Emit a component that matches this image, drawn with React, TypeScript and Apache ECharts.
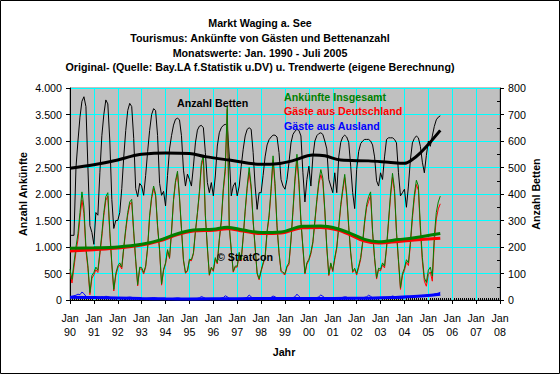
import { useEffect, useRef } from 'react';
import * as echarts from 'echarts';

const FONT = 'Arial, "Liberation Sans", sans-serif';

const titleLines = [
  'Markt Waging a. See',
  'Tourismus: Ankünfte von Gästen und Bettenanzahl',
  'Monatswerte: Jan. 1990 - Juli 2005',
  'Original- (Quelle: Bay.LA f.Statistik u.DV) u. Trendwerte (eigene Berechnung)',
];

const yearLabels = ['90', '91', '92', '93', '94', '95', '96', '97', '98', '99', '00', '01', '02', '03', '04', '05', '06', '07', '08'];

// Anzahl Betten (right axis), monthly Jan 1990 - Jul 2005
const beds = [
  244, 244, 244, 500, 600, 690, 750, 767, 730, 500, 280, 255,
  210, 330, 320, 480, 620, 700, 755, 740, 600, 380, 270, 300,
  300, 330, 420, 540, 640, 715, 742, 730, 610, 420, 390, 440,
  430, 395, 470, 560, 640, 700, 722, 715, 620, 440, 395, 410,
  355, 470, 570, 620, 660, 682, 686, 680, 620, 490, 430, 475,
  455, 430, 505, 593, 641, 656, 659, 650, 556, 443, 405, 443,
  393, 468, 581, 631, 650, 659, 663, 656, 543, 393, 430, 443,
  393, 430, 505, 569, 619, 644, 650, 644, 556, 430, 342, 405,
  405, 470, 540, 585, 605, 615, 622, 622, 615, 556, 455, 430,
  418, 455, 518, 593, 625, 637, 644, 640, 619, 480, 370, 455,
  505, 430, 540, 600, 620, 628, 631, 625, 600, 570, 455, 430,
  405, 480, 405, 540, 595, 615, 622, 615, 595, 505, 405, 345,
  493, 560, 590, 600, 606, 606, 606, 600, 585, 540, 450, 430,
  480, 455, 540, 606, 612, 612, 612, 606, 593, 480, 393, 405,
  418, 350, 430, 530, 593, 610, 619, 612, 580, 520, 480, 545,
  600, 580, 619, 655, 680, 690, 695,
];

// Ankünfte Insgesamt
const arrivals = [
  580, 390, 700, 1000, 1250, 1650, 2040, 1750, 1000, 650, 140, 460,
  520, 620, 560, 900, 1250, 1650, 1950, 2025, 1300, 700, 200, 500,
  640, 700, 620, 1000, 1350, 1650, 1850, 1900, 1300, 760, 290, 620,
  610, 520, 640, 1000, 1600, 1950, 2150, 2000, 1400, 950, 300, 580,
  700, 950, 800, 1300, 1900, 2250, 2430, 1950, 1350, 760, 520, 560,
  770, 760, 890, 1300, 1650, 2050, 2590, 2720, 1600, 1000, 480, 620,
  560, 800, 700, 1150, 1500, 2100, 2500, 3660, 1400, 950, 540, 640,
  640, 900, 760, 1200, 1700, 2150, 2500, 2150, 1500, 1000, 510, 400,
  560, 700, 820, 1300, 1600, 2100, 2720, 2200, 1400, 900, 560, 520,
  500, 640, 700, 1150, 1700, 2300, 2750, 2250, 1500, 1000, 510, 700,
  770, 900, 1100, 1500, 1900, 2250, 2460, 2300, 1700, 1000, 480, 700,
  560, 800, 1000, 1400, 1800, 2100, 2370, 2000, 1400, 900, 540, 600,
  500, 640, 800, 1100, 1500, 1800, 1950, 2040, 1300, 800, 420, 600,
  580, 700, 640, 1000, 1500, 2000, 2390, 2100, 1300, 760, 230, 500,
  600, 760, 700, 1100, 1600, 2000, 2260, 2150, 1400, 800, 420, 330,
  560, 620, 450, 1200, 1650, 1850, 1960,
];

// Gäste aus Deutschland
const germany = [
  520, 320, 620, 910, 1140, 1550, 1890, 1630, 930, 600, 100, 410,
  475, 570, 520, 855, 1190, 1595, 1880, 1960, 1250, 660, 170, 460,
  605, 660, 585, 965, 1305, 1600, 1795, 1850, 1260, 730, 265, 590,
  580, 490, 615, 970, 1565, 1910, 2105, 1960, 1370, 925, 280, 555,
  680, 925, 780, 1275, 1870, 2215, 2390, 1915, 1325, 740, 505, 540,
  750, 740, 870, 1275, 1620, 2010, 2525, 2670, 1570, 980, 465, 600,
  540, 775, 680, 1125, 1465, 2055, 2420, 3600, 1370, 930, 525, 620,
  620, 880, 735, 1170, 1665, 2100, 2405, 2090, 1470, 980, 495, 380,
  540, 675, 795, 1270, 1560, 2050, 2645, 2140, 1365, 875, 540, 500,
  475, 615, 670, 1115, 1655, 2240, 2640, 2180, 1465, 975, 490, 675,
  745, 870, 1070, 1465, 1855, 2190, 2365, 2230, 1660, 975, 460, 675,
  535, 770, 970, 1365, 1760, 2050, 2310, 1945, 1365, 875, 520, 575,
  470, 610, 765, 1060, 1450, 1740, 1860, 1970, 1260, 770, 395, 570,
  550, 665, 605, 960, 1450, 1940, 2315, 2035, 1255, 725, 200, 465,
  560, 715, 650, 1045, 1540, 1930, 2180, 2070, 1325, 730, 355, 260,
  480, 530, 355, 1090, 1530, 1720, 1815,
];

// Gäste aus Ausland
const abroad = [
  60, 70, 80, 90, 110, 100, 150, 120, 70, 50, 40, 50,
  45, 50, 40, 45, 60, 55, 70, 65, 50, 40, 30, 40,
  35, 40, 35, 35, 45, 50, 55, 50, 40, 30, 25, 30,
  30, 30, 25, 30, 35, 40, 45, 40, 30, 25, 20, 25,
  20, 25, 20, 25, 30, 35, 40, 35, 25, 20, 15, 20,
  20, 20, 20, 25, 30, 40, 65, 50, 30, 20, 15, 20,
  20, 25, 20, 25, 35, 45, 80, 60, 30, 20, 15, 20,
  20, 20, 25, 30, 35, 50, 95, 60, 30, 20, 15, 20,
  20, 25, 25, 30, 40, 50, 75, 60, 35, 25, 20, 20,
  25, 25, 30, 35, 45, 60, 110, 70, 35, 25, 20, 25,
  25, 30, 30, 35, 45, 60, 95, 70, 40, 25, 20, 25,
  25, 30, 30, 35, 40, 50, 60, 55, 35, 25, 20, 25,
  30, 30, 35, 40, 50, 60, 90, 70, 40, 30, 25, 30,
  30, 35, 35, 40, 50, 60, 75, 65, 45, 35, 30, 35,
  40, 45, 50, 55, 60, 70, 80, 80, 75, 70, 65, 70,
  80, 90, 95, 110, 120, 130, 145,
];

// Trend values (month index from Jan 1990)
const trendMonths = [0, 12, 24, 36, 45, 54, 62, 72, 79, 87, 96, 106, 117, 126, 134, 140, 148, 155, 165, 173, 186];
const arrivalsTrend = [975, 985, 1000, 1050, 1130, 1250, 1320, 1335, 1375, 1320, 1275, 1285, 1390, 1395, 1350, 1270, 1145, 1100, 1140, 1175, 1255];
const germanyTrend = [925, 950, 980, 1035, 1115, 1235, 1300, 1315, 1345, 1300, 1255, 1265, 1365, 1370, 1325, 1245, 1110, 1075, 1105, 1130, 1165];

const bedsTrendMonths = [0, 12, 24, 30, 36, 48, 60, 68, 80, 96, 104, 112, 122, 128, 136, 150, 160, 168, 172, 176, 180, 186];
const bedsTrend = [497, 510, 528, 541, 550, 555, 553, 541, 528, 512, 514, 526, 547, 544, 528, 525, 520, 516, 530, 555, 587, 640];

const abroadTrendMonths = [0, 12, 24, 36, 48, 60, 84, 108, 132, 150, 162, 170, 178, 186];
const abroadTrend = [50, 48, 40, 30, 22, 20, 25, 28, 30, 35, 45, 60, 80, 110];

const fmtDe = (v: number) =>
  v >= 1000 ? `${Math.floor(v / 1000)}.${String(v % 1000).padStart(3, '0')}` : `${v}`;

const monthly = (arr: number[]) => arr.map((v, i) => [i, v]);
const paired = (ms: number[], vs: number[]) => ms.map((m, i) => [m, vs[i]]);

function thin(name: string, data: number[], color: string, yAxisIndex = 0) {
  return {
    type: 'line', name, data: monthly(data), yAxisIndex, showSymbol: false, symbol: 'none',
    lineStyle: { color, width: 1 }, itemStyle: { color }, silent: true,
  };
}
function thick(name: string, ms: number[], vs: number[], color: string, yAxisIndex = 0) {
  return {
    type: 'line', name, data: paired(ms, vs), yAxisIndex, showSymbol: false, symbol: 'none',
    smooth: 0.35, lineStyle: { color, width: 3 }, itemStyle: { color }, silent: true,
  };
}

export default function App() {
  const ref = useRef<HTMLDivElement>(null);
  useEffect(() => {
    if (!ref.current) return;
    const chart = echarts.init(ref.current, null, { renderer: 'svg' });
    const txt = (text: string, x: number, y: number, extra: any = {}) => ({
      type: 'text', x, y, silent: true, z: 100,
      style: { text, fontSize: 10.7, fontWeight: 'bold', fontFamily: FONT, fill: '#000', textAlign: 'left', textVerticalAlign: 'middle', ...extra },
    });
    chart.setOption({
      animation: false,
      backgroundColor: '#ffffff',
      textStyle: { fontFamily: FONT },
      grid: { left: 70, right: 60, top: 88, bottom: 74, show: true, backgroundColor: '#C0C0C0', borderColor: '#808080', borderWidth: 1 },
      xAxis: {
        type: 'value', min: 0, max: 216, interval: 12,
        axisLine: { lineStyle: { color: '#000', width: 1 } },
        axisTick: { show: true, length: 4, lineStyle: { color: '#000' } },
        minorTick: { show: true, splitNumber: 12, length: -2, lineStyle: { color: '#000' } },
        splitLine: { show: true, lineStyle: { color: '#00FFFF', width: 1 } },
        axisLabel: {
          margin: 11, fontSize: 10.7, lineHeight: 14, color: '#000', fontFamily: FONT, align: 'center',
          formatter: (v: number) => `Jan\n${yearLabels[Math.round(v / 12)] ?? ''}`,
        },
      },
      yAxis: [
        {
          type: 'value', min: 0, max: 4000, interval: 500, position: 'left',
          axisLine: { show: true, lineStyle: { color: '#000' } },
          axisTick: { show: true, length: 4, lineStyle: { color: '#000' } },
          splitLine: { show: true, lineStyle: { color: '#00FFFF', width: 1 } },
          axisLabel: { margin: 8, fontSize: 10.7, color: '#000', fontFamily: FONT, formatter: fmtDe },
        },
        {
          type: 'value', min: 0, max: 800, interval: 100, position: 'right',
          axisLine: { show: true, lineStyle: { color: '#000' } },
          axisTick: { show: true, length: 4, lineStyle: { color: '#000' } },
          minorTick: { show: true, splitNumber: 2, length: -3, lineStyle: { color: '#000' } },
          splitLine: { show: false },
          axisLabel: { margin: 8, fontSize: 10.7, color: '#000', fontFamily: FONT },
        },
      ],
      series: [
        thin('Anzahl Betten', beds, '#000000', 1),
        thin('Gäste aus Deutschland', germany, '#FF0000'),
        thin('Ankünfte Insgesamt', arrivals, '#008000'),
        thin('Gäste aus Ausland', abroad, '#0000FF'),
        thick('Trend Deutschland', trendMonths, germanyTrend, '#FF0000'),
        thick('Trend Insgesamt', trendMonths, arrivalsTrend, '#008000'),
        thick('Trend Ausland', abroadTrendMonths, abroadTrend, '#0000FF'),
        thick('Trend Betten', bedsTrendMonths, bedsTrend, '#000000', 1),
      ],
      graphic: [
        { type: 'rect', silent: true, shape: { x: 0.5, y: 0.5, width: 559, height: 373 }, style: { fill: 'none', stroke: '#000', lineWidth: 1 } },
        ...titleLines.map((t, i) => txt(t, 260, [22.7, 37.7, 52.5, 67.3][i], { textAlign: 'center' })),
        txt('Anzahl Betten', 177, 103),
        txt('Ankünfte Insgesamt', 284, 96.5, { fill: '#008000' }),
        txt('Gäste aus Deutschland', 284, 111, { fill: '#FF0000' }),
        txt('Gäste aus Ausland', 284, 125.7, { fill: '#0000FF' }),
        txt('© StratCon', 217, 256.7),
        txt('Jahr', 284, 352, { textAlign: 'center' }),
        { ...txt('Anzahl Ankünfte', 22.5, 194, { textAlign: 'center' }), rotation: Math.PI / 2 },
        { ...txt('Anzahl Betten', 536, 194, { textAlign: 'center' }), rotation: Math.PI / 2 },
      ],
    });
    return () => chart.dispose();
  }, []);
  return <div ref={ref} style={{ position: 'fixed', left: 0, top: 0, width: 560, height: 374, background: '#fff' }} />;
}
